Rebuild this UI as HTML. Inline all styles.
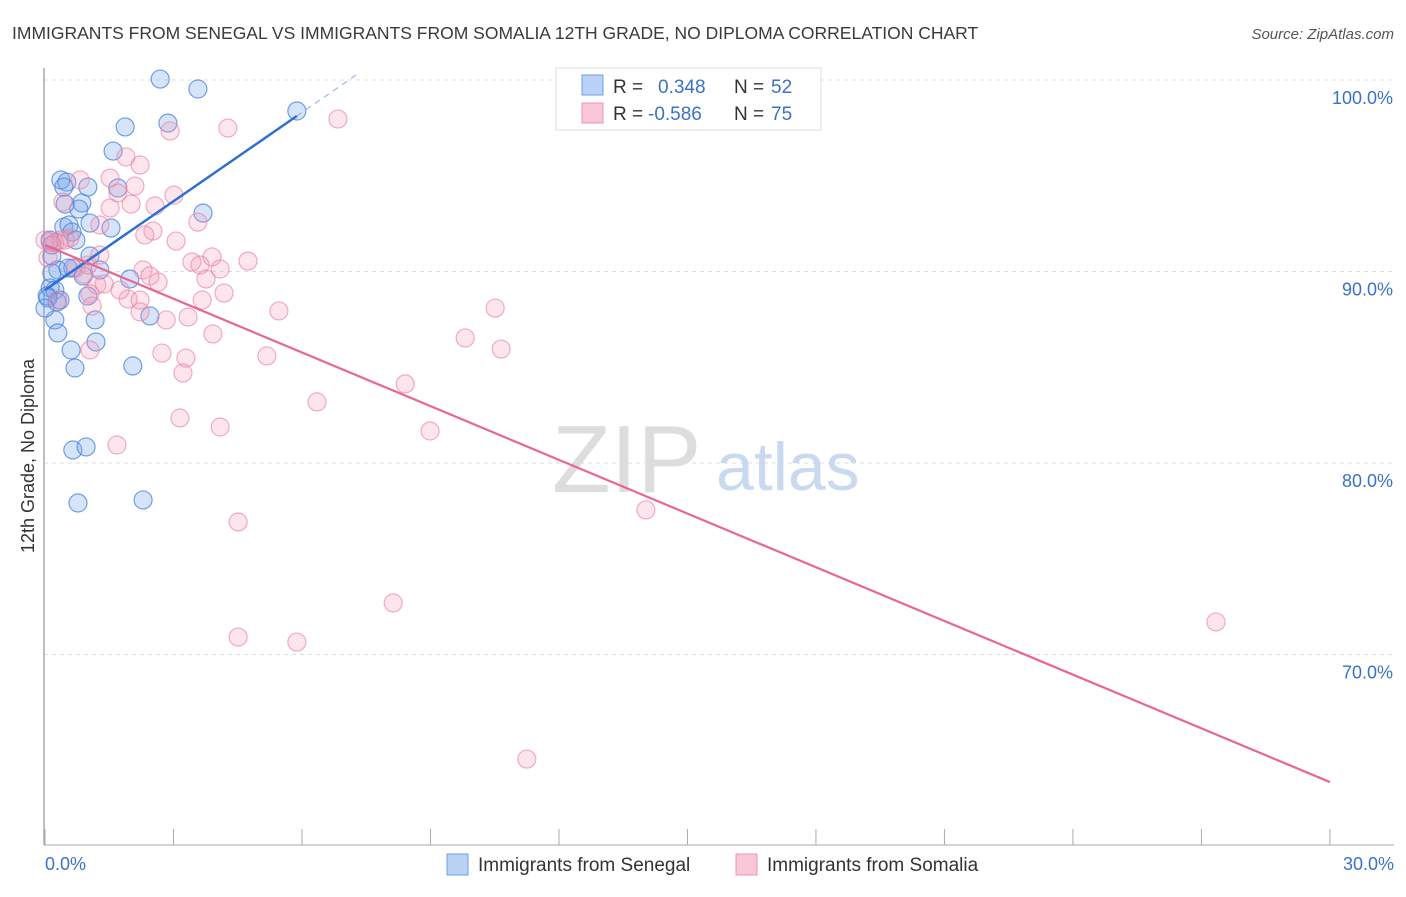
<!DOCTYPE html>
<html><head><meta charset="utf-8"><style>
body{margin:0;background:#fff;font-family:"Liberation Sans",sans-serif;}
svg text{font-family:"Liberation Sans",sans-serif;}
</style></head><body>
<svg id="chart" width="1406" height="892" viewBox="0 0 1406 892" xmlns="http://www.w3.org/2000/svg">
<text x="12" y="39" font-size="17.5" fill="#3a3a3a">IMMIGRANTS FROM SENEGAL VS IMMIGRANTS FROM SOMALIA 12TH GRADE, NO DIPLOMA CORRELATION CHART</text>
<text x="1394" y="39" font-size="15" fill="#555" font-style="italic" text-anchor="end">Source: ZipAtlas.com</text>
<g id="grid"></g>
<text x="552" y="492" font-size="96" fill="#ddd" font-family="Liberation Serif,serif">ZIP</text>
<text x="716" y="490" font-size="68" fill="#c9daf0">atlas</text>
<line x1="44" y1="68" x2="44" y2="845" stroke="#aaa" stroke-width="1.5"/>
<line x1="44" y1="845" x2="1394" y2="845" stroke="#aaa" stroke-width="1"/>
<text transform="translate(34,456) rotate(-90)" font-size="18" fill="#333" text-anchor="middle">12th Grade, No Diploma</text>
<g id="points"></g>
<g id="lines"></g>
<text x="45" y="870" font-size="18" fill="#3a72c8">0.0%</text>
<text x="1394" y="870" font-size="18" fill="#3a72c8" text-anchor="end">30.0%</text>
<g>
<rect x="556" y="68" width="265" height="62" fill="#fff" stroke="#ddd"/>
<rect x="582" y="75" width="21" height="20" fill="#b9d2f5" stroke="#6d9de0"/>
<rect x="582" y="103" width="21" height="20" fill="#f9c7d6" stroke="#ec95b0"/>
<text x="613" y="93" font-size="19" fill="#333">R =</text>
<text x="658" y="93" font-size="19" fill="#3a72c8">0.348</text>
<text x="734" y="93" font-size="19" fill="#333">N =</text>
<text x="771" y="93" font-size="19" fill="#3a72c8">52</text>
<text x="613" y="120" font-size="19" fill="#333">R =</text>
<text x="648" y="120" font-size="19" fill="#3a72c8">-0.586</text>
<text x="734" y="120" font-size="19" fill="#333">N =</text>
<text x="771" y="120" font-size="19" fill="#3a72c8">75</text>
</g>
<g>
<rect x="447" y="854" width="21" height="21" fill="#b9d2f5" stroke="#6d9de0"/>
<text x="478" y="871" font-size="19" fill="#333">Immigrants from Senegal</text>
<rect x="736" y="854" width="21" height="21" fill="#f9c7d6" stroke="#ec95b0"/>
<text x="767" y="871" font-size="19" fill="#333">Immigrants from Somalia</text>
</g>
</svg>
<script>
const yTicks=[100,90,80,70];
const yTickLabels=["100.0%","90.0%","80.0%","70.0%"];
const xTicks=[0,3,6,9,12,15,18,21,24,27,30];
const senegalX=[2.69,3.57,5.88,1.87,2.87,1.59,0.37,0.51,1.00,1.70,0.86,0.79,0.47,3.69,0.44,0.56,1.05,0.63,1.54,0.12,0.72,0.16,0.16,1.05,0.30,0.65,0.89,1.98,0.12,0.23,0.05,0.35,0.28,1.17,0.23,0.30,2.45,1.19,0.61,0.70,2.05,0.65,0.96,0.77,2.29,0.07,0.16,0.0,0.54,0.44,1.28,1.00];
const senegalY=[100.05,99.53,98.38,97.55,97.75,96.29,94.78,94.67,94.41,94.36,93.58,93.26,93.52,93.05,92.32,92.43,92.53,92.06,92.27,91.64,91.64,91.38,90.81,90.81,90.08,90.18,89.77,89.61,89.14,89.03,88.72,88.51,88.41,87.47,87.47,86.79,87.68,86.32,85.90,84.96,85.07,80.68,80.84,77.91,78.07,88.62,89.92,88.09,90.18,94.41,90.08,88.72];
const somaliaX=[6.84,4.27,2.92,1.89,2.22,0.82,1.52,2.10,1.70,3.01,0.42,1.52,2.01,2.57,3.57,1.28,2.52,2.33,3.06,0.35,0.12,0.58,4.74,3.43,3.90,4.09,3.62,2.29,2.45,2.64,0.91,1.21,1.38,3.76,4.18,1.05,1.94,3.67,5.46,2.22,2.83,3.34,1.10,3.92,9.81,10.51,10.65,1.05,2.73,3.29,5.18,3.22,8.41,6.35,3.15,4.09,8.99,1.68,14.03,4.51,8.13,4.51,5.88,27.34,11.25,0.0,0.23,0.47,0.07,1.00,0.30,1.28,0.72,2.22,1.75];
const somaliaY=[97.96,97.49,97.34,95.98,95.56,94.78,94.88,94.46,94.10,93.99,93.63,93.32,93.52,93.42,92.58,92.43,92.11,91.91,91.59,91.64,91.54,91.75,90.55,90.50,90.76,90.13,90.34,90.08,89.77,89.45,89.87,89.30,89.35,89.61,88.88,88.83,88.56,88.51,87.94,87.89,87.47,87.62,88.20,86.74,86.53,88.09,85.95,85.90,85.74,85.48,85.59,84.70,84.13,83.19,82.35,81.88,81.67,80.94,77.55,76.92,72.69,70.91,70.65,71.70,64.54,91.64,91.49,91.64,90.71,90.34,88.51,90.86,90.18,88.51,89.03];
const senegalTrend=[89.03,1.546,5.88,7.31]; // intercept, slope, solid end, dashed end
const somaliaTrend=[91.38,-0.9347,30];
const NS="http://www.w3.org/2000/svg";
function sx(v){return 45+v*42.83;}
function sy(v){return 80+(100-v)*19.15;}
function mk(tag,attrs,parent){const e=document.createElementNS(NS,tag);for(const k in attrs)e.setAttribute(k,attrs[k]);parent.appendChild(e);return e;}
const grid=document.getElementById('grid');
yTicks.forEach((t,i)=>{
 const l=mk('line',{x1:44,x2:1394,y1:sy(t),y2:sy(t),stroke:'#ddd','stroke-dasharray':'4,4'},grid);
 
 
 const tx=mk('text',{x:1393,y:sy(t)+24,'font-size':18,fill:'#3a72c8','text-anchor':'end'},grid);
 tx.textContent=yTickLabels[i];
 
 
});
xTicks.forEach(t=>{
 const l=mk('line',{x1:sx(t),x2:sx(t),y1:829,y2:845,stroke:'#aaa'},grid);
 
 
});
const pts=document.getElementById('points');
senegalX.forEach((x,i)=>{
 const c=mk('circle',{cx:sx(x),cy:sy(senegalY[i]),r:9,fill:'rgba(120,165,235,0.3)',stroke:'rgba(70,130,220,0.75)','stroke-width':1.2},pts);
 
 
});
somaliaX.forEach((x,i)=>{
 const c=mk('circle',{cx:sx(x),cy:sy(somaliaY[i]),r:9,fill:'rgba(245,150,180,0.25)',stroke:'rgba(235,130,165,0.65)','stroke-width':1.2},pts);
 
 
});
const ln=document.getElementById('lines');
const b=senegalTrend;
const bl=mk('line',{x1:sx(0),y1:sy(b[0]),x2:sx(b[2]),y2:sy(b[0]+b[1]*b[2]),stroke:'#2f6fd0','stroke-width':2.5},ln);


const bd=mk('line',{x1:sx(b[2]),y1:sy(b[0]+b[1]*b[2]),x2:sx(b[3]),y2:sy(b[0]+b[1]*b[3]),stroke:'#8aaee6','stroke-width':1,'stroke-dasharray':'6,5'},ln);


const p=somaliaTrend;
const pl=mk('line',{x1:sx(0),y1:sy(p[0]),x2:sx(p[2]),y2:sy(p[0]+p[1]*p[2]),stroke:'#e8678f','stroke-width':2.2},ln);


</script>
</body></html>
